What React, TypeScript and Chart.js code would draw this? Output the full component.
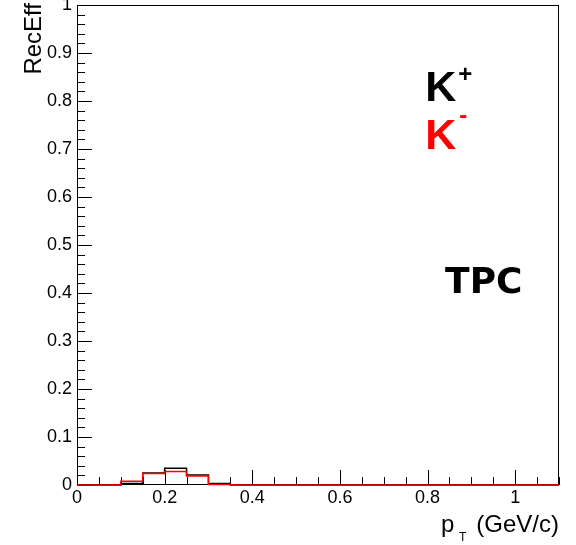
import React, { useEffect, useRef } from 'react';
import { Chart, registerables } from 'chart.js';

Chart.register(...registerables);

// ---- data ----
const binEdges = [0, 0.05, 0.1, 0.15, 0.2, 0.25, 0.3, 0.35, 0.4, 0.45, 0.5, 0.55, 0.6, 0.65, 0.7, 0.75, 0.8, 0.85, 0.9, 0.95, 1.0, 1.05, 1.1];
const kPlusEff = [0, 0, 0.003, 0.025, 0.035, 0.021, 0.003, 0, 0, 0, 0, 0, 0, 0, 0, 0, 0, 0, 0, 0, 0, 0];
const kMinusEff = [0, 0, 0.008, 0.024, 0.028, 0.019, 0.001, 0, 0, 0, 0, 0, 0, 0, 0, 0, 0, 0, 0, 0, 0, 0];
const xTickValues = [0, 0.2, 0.4, 0.6, 0.8, 1];
const yTickValues = [0, 0.1, 0.2, 0.3, 0.4, 0.5, 0.6, 0.7, 0.8, 0.9, 1];
const xMinorDivisions = 4;
const yMinorDivisions = 5;

const kPlusLabelPos = { x: 0.795, y: 0.8 };
const kMinusLabelPos = { x: 0.795, y: 0.7 };
const tpcLabelPos = { x: 0.84, y: 0.4 };

const FONT = "'Liberation Sans', Arial, Helvetica, sans-serif";

function histPoints(values: number[]) {
  const pts: { x: number; y: number }[] = [];
  values.forEach((v, i) => {
    pts.push({ x: binEdges[i], y: v });
    pts.push({ x: binEdges[i + 1], y: v });
  });
  return pts;
}

const fmt = (v: number) => String(Math.round(v * 10) / 10);

const rootStylePlugin = {
  id: 'rootStyle',
  beforeDatasetsDraw(chart: any) {
    const { ctx, chartArea } = chart;
    const xs = chart.scales.x;
    const ys = chart.scales.y;
    const { left, right, top, bottom } = chartArea;
    ctx.save();
    ctx.strokeStyle = '#000';
    ctx.lineWidth = 1;
    ctx.strokeRect(Math.round(left) + 0.5, Math.round(top) + 0.5, Math.round(right - left) - 1, Math.round(bottom - top) - 1);

    ctx.beginPath();
    // x ticks
    const xStep = xTickValues[1] - xTickValues[0];
    const xMinor = xStep / xMinorDivisions;
    for (let k = 0; xs.min + k * xMinor <= xs.max + 1e-9; k++) {
      const v = xs.min + k * xMinor;
      const isMajor = k % xMinorDivisions === 0;
      const px = Math.round(xs.getPixelForValue(v)) + 0.5;
      const len = isMajor ? 15 : 8;
      ctx.moveTo(px, bottom);
      ctx.lineTo(px, bottom - len);
    }
    // y ticks
    const yStep = yTickValues[1] - yTickValues[0];
    const yMinor = yStep / yMinorDivisions;
    for (let k = 0; ys.min + k * yMinor <= ys.max + 1e-9; k++) {
      const v = ys.min + k * yMinor;
      const isMajor = k % yMinorDivisions === 0;
      const py = Math.round(ys.getPixelForValue(v)) + 0.5;
      const len = isMajor ? 15 : 8;
      ctx.moveTo(left, py);
      ctx.lineTo(left + len, py);
    }
    ctx.stroke();
    ctx.restore();
  },
  afterDraw(chart: any) {
    const { ctx, chartArea } = chart;
    const xs = chart.scales.x;
    const ys = chart.scales.y;
    ctx.save();
    ctx.fillStyle = '#000';
    ctx.textBaseline = 'alphabetic';

    // y title
    ctx.save();
    ctx.translate(41, 3);
    ctx.rotate(-Math.PI / 2);
    ctx.textAlign = 'right';
    ctx.font = `24px ${FONT}`;
    ctx.fillText('RecEff', 0, 0);
    ctx.restore();

    // x title  p_T (GeV/c)
    const r = chartArea.right;
    const b = chartArea.bottom;
    ctx.textAlign = 'left';
    ctx.font = `24px ${FONT}`;
    ctx.fillText('p', r - 118, b + 47);
    ctx.font = `12px ${FONT}`;
    ctx.fillText('T', r - 100, b + 56);
    ctx.textAlign = 'right';
    ctx.font = `24px ${FONT}`;
    ctx.fillText('(GeV/c)', r, b + 47);

    // K+ / K- labels
    ctx.textAlign = 'left';
    const kpx = xs.getPixelForValue(kPlusLabelPos.x);
    const kpy = ys.getPixelForValue(kPlusLabelPos.y);
    ctx.font = `bold 43px ${FONT}`;
    ctx.fillStyle = '#000';
    ctx.fillText('K', kpx, kpy);
    ctx.font = `bold 24px ${FONT}`;
    ctx.fillText('+', kpx + 33, kpy - 19);

    const kmx = xs.getPixelForValue(kMinusLabelPos.x);
    const kmy = ys.getPixelForValue(kMinusLabelPos.y);
    ctx.fillStyle = '#ff0000';
    ctx.font = `bold 43px ${FONT}`;
    ctx.fillText('K', kmx, kmy);
    ctx.font = `bold 24px ${FONT}`;
    ctx.fillText('-', kmx + 34, kmy - 26);

    // TPC
    ctx.fillStyle = '#000';
    ctx.font = `bold 36px 'DejaVu Sans', sans-serif`;
    ctx.fillText('TPC', xs.getPixelForValue(tpcLabelPos.x), ys.getPixelForValue(tpcLabelPos.y));

    ctx.restore();
  },
};

export default function App() {
  const canvasRef = useRef<HTMLCanvasElement | null>(null);

  useEffect(() => {
    const canvas = canvasRef.current;
    if (!canvas) return;
    const chart = new Chart(canvas, {
      type: 'line',
      data: {
        datasets: [
          {
            label: 'K-',
            data: histPoints(kMinusEff),
            borderColor: '#ff0000',
            backgroundColor: '#ff0000',
            borderWidth: 1.5,
            pointRadius: 0,
            tension: 0,
            fill: false,
            clip: false as any,
            order: 1,
          },
          {
            label: 'K+',
            data: histPoints(kPlusEff),
            borderColor: '#000000',
            backgroundColor: '#000000',
            borderWidth: 1.5,
            pointRadius: 0,
            tension: 0,
            fill: false,
            clip: false as any,
            order: 2,
          },
        ],
      },
      options: {
        responsive: false,
        animation: false,
        events: [],
        layout: { padding: { left: 0, right: 17, top: 5, bottom: 0 } },
        plugins: {
          legend: { display: false },
          tooltip: { enabled: false },
          title: { display: false },
        },
        scales: {
          x: {
            type: 'linear',
            min: 0,
            max: 1.1,
            afterBuildTicks: (s: any) => {
              s.ticks = xTickValues.map((v) => ({ value: v }));
            },
            afterFit: (s: any) => {
              s.height = 60;
              s.paddingLeft = 0;
              s.paddingRight = 0;
            },
            grid: { display: false, drawTicks: false },
            border: { display: false },
            ticks: {
              autoSkip: false,
              maxRotation: 0,
              minRotation: 0,
              padding: 2,
              color: '#000',
              font: { family: FONT, size: 18 },
              callback: (v: any) => fmt(Number(v)),
            },
          },
          y: {
            type: 'linear',
            min: 0,
            max: 1,
            afterBuildTicks: (s: any) => {
              s.ticks = yTickValues.map((v) => ({ value: v }));
            },
            afterFit: (s: any) => {
              s.width = 77;
              s.paddingTop = 0;
              s.paddingBottom = 0;
            },
            grid: { display: false, drawTicks: false },
            border: { display: false },
            ticks: {
              autoSkip: false,
              padding: 5,
              color: '#000',
              font: { family: FONT, size: 18 },
              callback: (v: any) => fmt(Number(v)),
            },
          },
        },
      },
      plugins: [rootStylePlugin],
    });
    return () => chart.destroy();
  }, []);

  return (
    <div style={{ position: 'absolute', left: 0, top: 0, width: 576, height: 545, background: '#fff' }}>
      <canvas ref={canvasRef} width={576} height={545} />
    </div>
  );
}
